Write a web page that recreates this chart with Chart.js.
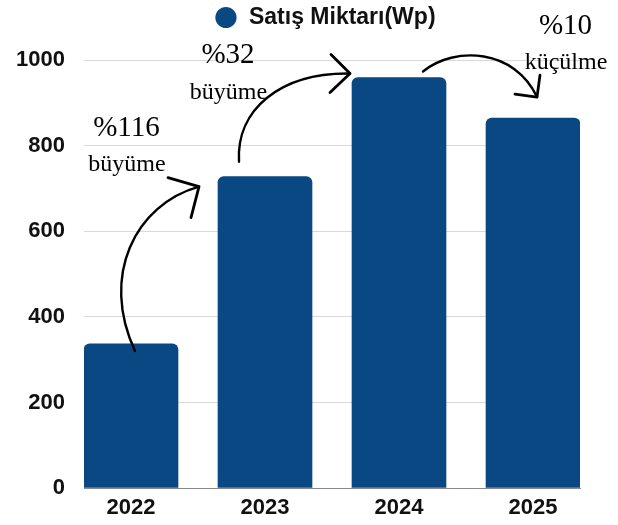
<!DOCTYPE html>
<html>
<head>
<meta charset="utf-8">
<script src="https://cdn.jsdelivr.net/npm/chart.js@4"></script>
<style>
  html, body { margin: 0; padding: 0; background: #fff; }
  #wrap { width: 618px; height: 525px; position: relative; }
</style>
</head>
<body>
<div id="wrap"><canvas id="salesChart"></canvas></div>
<script>
const years = ['2022', '2023', '2024', '2025'];
const sales = [337, 728, 960, 865];
const yTicks = [0, 200, 400, 600, 800, 1000];
const changePct = ['%116', '%32', '%10'];
const changeWord = ['büyüme', 'büyüme', 'küçülme'];

const barColor = '#0a4884';

// curved arrows between bars, offsets from a bar's centre/top: [barIndex, dx, dy]
const arrows = [
  { curve: [[0, 4, 7], [0, -31, -68], [1, -130, 28], [1, -66, 10]],
    head: [[1, -97, 1], [1, -74, 41]],
    pct: [0, -4.5, -208.3], word: [0, -4, -172.6] },
  { curve: [[1, -26, -15], [1, -29, -67], [2, -119, -5], [2, -49, -4]],
    head: [[2, -68, -23], [2, -69, 15]],
    pct: [1, -37, -113.7], word: [1, -36.5, -77.7] },
  { curve: [[2, 24, -6], [2, 56, -32], [3, -18, -69], [3, 4, -21]],
    head: [[3, 7, -43], [3, -18, -24]],
    pct: [3, 32.5, -84], word: [3, 33, -49] }
];

const annotations = {
  id: 'annotations',
  afterLayout(chart) {
    // legend sits a little right of the canvas centre
    if (chart.legend) {
      chart.legend.left += 30;
      chart.legend.right += 30;
    }
  },
  afterDatasetsDraw(chart) {
    const xs = chart.scales.x, ys = chart.scales.y;
    const pt = (p) => [xs.getPixelForValue(p[0]) + p[1], ys.getPixelForValue(sales[p[0]]) + p[2]];
    const ctx = chart.ctx;
    ctx.save();
    ctx.strokeStyle = '#000';
    ctx.fillStyle = '#000';
    ctx.lineCap = 'round';
    ctx.lineJoin = 'round';
    arrows.forEach((a, i) => {
      const [p0, p1, p2, p3] = a.curve.map(pt);
      ctx.lineWidth = 2.4;
      ctx.beginPath();
      ctx.moveTo(p0[0], p0[1]);
      ctx.bezierCurveTo(p1[0], p1[1], p2[0], p2[1], p3[0], p3[1]);
      ctx.stroke();
      const [h1, h2] = a.head.map(pt);
      ctx.lineWidth = 2.8;
      ctx.beginPath();
      ctx.moveTo(h1[0], h1[1]);
      ctx.lineTo(p3[0], p3[1]);
      ctx.lineTo(h2[0], h2[1]);
      ctx.stroke();

      ctx.textAlign = 'center';
      ctx.textBaseline = 'alphabetic';
      const tp = pt(a.pct);
      ctx.font = '29px "Liberation Serif", "Times New Roman", serif';
      ctx.fillText(changePct[i], tp[0], tp[1]);
      const tw = pt(a.word);
      ctx.font = '24px "Liberation Serif", "Times New Roman", serif';
      ctx.fillText(changeWord[i], tw[0], tw[1]);
    });
    ctx.restore();
  }
};

function init() {
  const ctx = document.getElementById('salesChart').getContext('2d');
  new Chart(ctx, {
    type: 'bar',
    data: {
      datasets: [{
        label: 'Satış Miktarı(Wp)',
        data: sales.map((v, i) => ({ x: i, y: v })),
        backgroundColor: barColor,
        borderRadius: 6,
        borderSkipped: 'start',
        barThickness: 94
      }]
    },
    options: {
      responsive: true,
      maintainAspectRatio: false,
      animation: false,
      devicePixelRatio: 1,
      layout: { padding: { left: 10, right: 38, top: 0, bottom: 0 } },
      plugins: {
        tooltip: { enabled: false },
        legend: {
          position: 'top',
          labels: {
            usePointStyle: true,
            pointStyle: 'circle',
            boxHeight: 15,
            padding: 6,
            color: '#111',
            font: { family: '"Liberation Sans", Arial, sans-serif', size: 23, weight: 'bold' }
          }
        }
      },
      scales: {
        x: {
          type: 'linear',
          offset: false,
          min: -0.3507,
          max: 3.3507,
          grid: { display: false, drawTicks: false },
          border: { display: true, color: '#8a8a8a', width: 1 },
          afterFit: (s) => { s.height = 37; },
          ticks: {
            stepSize: 1,
            includeBounds: false,
            padding: 7,
            color: '#111',
            font: { family: '"Liberation Sans", Arial, sans-serif', size: 22, weight: 'bold' },
            callback: (v) => years[v] ?? ''
          }
        },
        y: {
          min: 0,
          max: 1050,
          afterFit: (s) => { s.width = 74; },
          afterBuildTicks: (s) => { s.ticks = yTicks.map(v => ({ value: v })); },
          grid: { color: '#d9d9d9', drawTicks: false },
          border: { display: false },
          ticks: {
            padding: 19,
            color: '#111',
            font: { family: '"Liberation Sans", Arial, sans-serif', size: 22, weight: 'bold' },
            callback: (v) => String(v)
          }
        }
      }
    },
    plugins: [annotations]
  });
}

window.addEventListener('DOMContentLoaded', init);
</script>
</body>
</html>
